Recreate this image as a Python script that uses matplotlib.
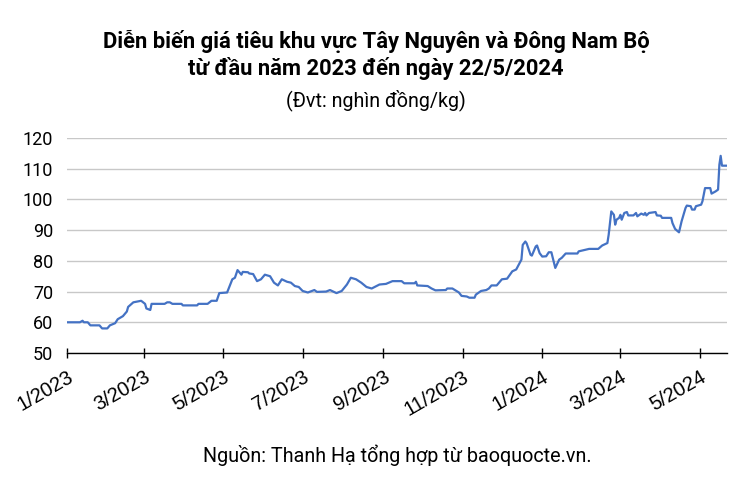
import matplotlib.pyplot as plt
import pandas as pd

plt.rcParams['font.family'] = ['Roboto', 'DejaVu Sans']

# ngày giao dịch và giá tiêu (nghìn đồng/kg)
dates = [
    '2023-01-01', '2023-01-11', '2023-01-13', '2023-01-14', '2023-01-17', '2023-01-19',
    '2023-01-26', '2023-01-28', '2023-02-01', '2023-02-03', '2023-02-07', '2023-02-09',
    '2023-02-13', '2023-02-16', '2023-02-17', '2023-02-21', '2023-02-27', '2023-03-02',
    '2023-03-03', '2023-03-06', '2023-03-07', '2023-03-17', '2023-03-19', '2023-03-21',
    '2023-03-23', '2023-03-30', '2023-03-31', '2023-04-11', '2023-04-12', '2023-04-19',
    '2023-04-22', '2023-04-26', '2023-04-28', '2023-05-04', '2023-05-08', '2023-05-10',
    '2023-05-12', '2023-05-15', '2023-05-16', '2023-05-20', '2023-05-21', '2023-05-24',
    '2023-05-27', '2023-05-30', '2023-06-02', '2023-06-06', '2023-06-09', '2023-06-12',
    '2023-06-15', '2023-06-19', '2023-06-22', '2023-06-25', '2023-06-28', '2023-07-01',
    '2023-07-05', '2023-07-10', '2023-07-12', '2023-07-19', '2023-07-22', '2023-07-27',
    '2023-07-31', '2023-08-04', '2023-08-07', '2023-08-11', '2023-08-15', '2023-08-19',
    '2023-08-23', '2023-08-29', '2023-09-03', '2023-09-08', '2023-09-15', '2023-09-17',
    '2023-09-25', '2023-09-26', '2023-09-27', '2023-10-05', '2023-10-08', '2023-10-11',
    '2023-10-19', '2023-10-20', '2023-10-24', '2023-10-27', '2023-10-29', '2023-10-31',
    '2023-11-04', '2023-11-06', '2023-11-10', '2023-11-11', '2023-11-15', '2023-11-19',
    '2023-11-21', '2023-11-23', '2023-11-27', '2023-12-01', '2023-12-05', '2023-12-09',
    '2023-12-12', '2023-12-16', '2023-12-17', '2023-12-19', '2023-12-20', '2023-12-23',
    '2023-12-24', '2023-12-27', '2023-12-28', '2023-12-30', '2024-01-01', '2024-01-04',
    '2024-01-06', '2024-01-08', '2024-01-11', '2024-01-14', '2024-01-16', '2024-01-19',
    '2024-01-28', '2024-01-29', '2024-01-31', '2024-02-06', '2024-02-13', '2024-02-16',
    '2024-02-20', '2024-02-21', '2024-02-23', '2024-02-25', '2024-02-26', '2024-02-27',
    '2024-02-29', '2024-03-01', '2024-03-02', '2024-03-04', '2024-03-06', '2024-03-07',
    '2024-03-11', '2024-03-13', '2024-03-14', '2024-03-17', '2024-03-19', '2024-03-20',
    '2024-03-21', '2024-03-23', '2024-03-28', '2024-03-29', '2024-04-01', '2024-04-02',
    '2024-04-09', '2024-04-10', '2024-04-12', '2024-04-15', '2024-04-17', '2024-04-20',
    '2024-04-21', '2024-04-24', '2024-04-25', '2024-04-27', '2024-04-28', '2024-05-02',
    '2024-05-03', '2024-05-05', '2024-05-09', '2024-05-10', '2024-05-13', '2024-05-15',
    '2024-05-16', '2024-05-17', '2024-05-18', '2024-05-22',
]
prices = [
    60, 60, 60.5, 60, 60, 59,
    59, 58, 58, 59, 59.7, 61,
    62, 63.5, 65, 66.5, 67, 66,
    64.5, 64, 66, 66, 66.5, 66.5,
    66, 66, 65.5, 65.5, 66, 66,
    67, 67, 69.5, 69.7, 74, 74.5,
    77, 75.5, 76.4, 76.3, 75.9, 75.7,
    73.4, 74, 75.5, 75, 72.9, 72,
    74, 73.2, 72.9, 71.8, 71.5, 70.2,
    69.7, 70.5, 69.9, 70, 70.5, 69.5,
    70.2, 72.3, 74.5, 74, 72.9, 71.5,
    71, 72.3, 72.5, 73.4, 73.4, 72.7,
    72.7, 73.2, 72, 71.8, 71, 70.4,
    70.5, 71, 71, 70.2, 69.7, 68.6,
    68.4, 68, 68, 69, 70.2, 70.5,
    71, 72, 72, 74, 74.2, 76.6,
    77.2, 80.4, 85.2, 86.3, 85.7, 82,
    81.7, 84.7, 85, 82.5, 81.4, 81.5,
    82.8, 82.8, 77.7, 80.4, 81, 82.4,
    82.4, 83.1, 83.3, 83.9, 83.9, 85,
    85.8, 88.5, 96.1, 95, 91.8, 93.4,
    94, 95, 93.4, 95.6, 95.9, 94.8,
    94.8, 95.6, 94.5, 95.4, 95, 95.6,
    94.8, 95.6, 95.9, 94.8, 94.7, 94,
    94, 92.3, 90.4, 89.3, 92.9, 97.2,
    98, 97.8, 96.7, 96.7, 97.8, 98.3,
    99.4, 103.7, 103.7, 101.9, 102.6, 103.2,
    111.3, 114.2, 111, 111,
]
tick_dates = ['2023-01-01', '2023-03-01', '2023-05-01', '2023-07-01', '2023-09-01',
              '2023-11-01', '2024-01-01', '2024-03-01', '2024-05-01']
tick_labels = ['1/2023', '3/2023', '5/2023', '7/2023', '9/2023',
               '11/2023', '1/2024', '3/2024', '5/2024']

x = pd.to_datetime(dates)

fig = plt.figure(figsize=(7.52, 4.93), dpi=100)
ax = fig.add_axes([0.089, 0.284, 0.878, 0.436])

ax.plot(x, prices, color='#4472c4', linewidth=1.6, zorder=3)

ax.set_xlim(pd.Timestamp('2023-01-01'), pd.Timestamp('2024-05-22'))
ax.set_ylim(50, 120)
ax.set_yticks(range(50, 121, 10))
ax.grid(axis='y', color='#c8c8c8', linewidth=1)
ax.set_axisbelow(True)

ax.set_xticks(pd.to_datetime(tick_dates))
ax.set_xticklabels(tick_labels, rotation=30, ha='right', rotation_mode='anchor',
                   family=['Liberation Sans', 'DejaVu Sans'])

for s in ['top', 'right', 'left']:
    ax.spines[s].set_visible(False)
ax.spines['bottom'].set_color('black')
ax.spines['bottom'].set_linewidth(1)
ax.tick_params(axis='x', direction='inout', length=7, width=1, labelsize=14.5, pad=7)
ax.tick_params(axis='y', length=0, labelsize=13, pad=10)

fig.text(0.5, 0.915, 'Diễn biến giá tiêu khu vực Tây Nguyên và Đông Nam Bộ',
         ha='center', va='center', fontsize=15.8, fontweight='bold')
fig.text(0.5, 0.862, 'từ đầu năm 2023 đến ngày 22/5/2024',
         ha='center', va='center', fontsize=15.8, fontweight='bold')
fig.text(0.5, 0.797, '(Đvt: nghìn đồng/kg)', ha='center', va='center', fontsize=14.2)
fig.text(0.529, 0.077, 'Nguồn: Thanh Hạ tổng hợp từ baoquocte.vn.',
         ha='center', va='center', fontsize=14.2)

fig.savefig('out.png', dpi=100)
